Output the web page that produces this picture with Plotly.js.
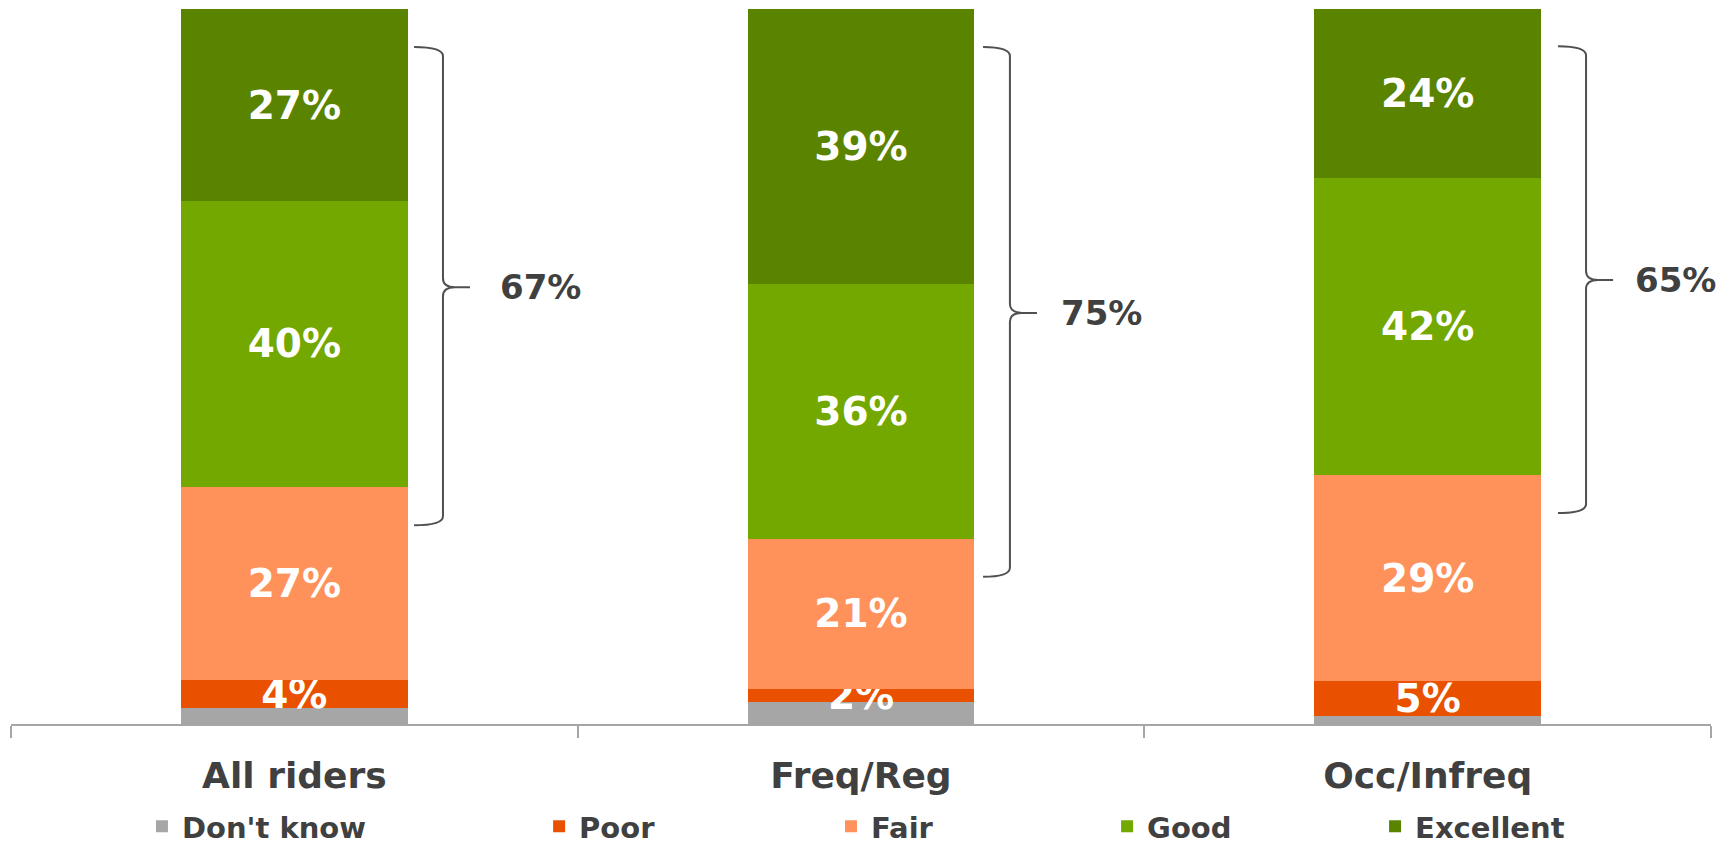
<!DOCTYPE html>
<html>
<head>
<meta charset="utf-8">
<script src="https://cdn.plot.ly/plotly-3.0.1.min.js"></script>
<style>
  html, body { margin: 0; padding: 0; background: #ffffff; }
  #chart { width: 1729px; height: 845px; }
</style>
</head>
<body>
<div id="chart"></div>
<script>
// ---- Data ----
const categories = ['All riders', 'Freq/Reg', 'Occ/Infreq'];
const seriesNames = ["Don't know", 'Poor', 'Fair', 'Good', 'Excellent'];
const dontKnow  = [2.2, 3.1, 1.1];
const poor      = [3.9, 1.8, 4.9];
const fair      = [27.1, 21.0, 28.8];
const good      = [39.9, 35.6, 41.6];
const excellent = [26.9, 38.5, 23.6];
// Printed totals next to the braces (Good + Excellent)
const topTwoTotals = [67, 75, 65];

// ---- Styles / layout settings ----
const colors = ['#A6A6A6', '#E95000', '#FF915A', '#73A800', '#5A8400'];
const FONT = 'DejaVu Sans, Verdana, sans-serif';
const textColor = '#404040';

// Brace geometry (x in paper units, y in data units)
const braceStubX = [0.2371, 0.5718, 0.9100];
const braceLineX = [0.2541, 0.5876, 0.9265];
const braceTipX  = [0.2700, 0.6035, 0.9424];
const braceLabelX = [0.2865, 0.6165, 0.9541];
const braceTop    = [94.7, 94.7, 94.8];
const braceMid    = [61.1, 57.5, 62.1];
const braceBottom = [27.8, 20.6, 29.5];
// Legend positions (container fractions)
const legendX = [0.0821, 0.3118, 0.4806, 0.6403, 0.7953];
const legendY = 0.022;

const seriesValues = [dontKnow, poor, fair, good, excellent];
const legendIds = ['legend', 'legend2', 'legend3', 'legend4', 'legend5'];

const traces = seriesValues.map((vals, i) => ({
  type: 'bar',
  name: seriesNames[i],
  x: categories,
  y: vals,
  marker: { color: colors[i], line: { width: 0 } },
  texttemplate: i === 0 ? '' : '%{y:.0f}%',
  textposition: i === 0 ? 'none' : 'inside',
  insidetextanchor: 'middle',
  textangle: 0,
  constraintext: 'none',
  textfont: { family: FONT, size: 39, color: '#ffffff', weight: 'bold' },
  cliponaxis: false,
  hoverinfo: 'skip',
  legend: legendIds[i]
}));

const shapes = [];
const annotations = [];
const rPx = 9;               // curve radius in px
const pxPerUnit = 715 / 100; // plot height / y-range
const r = rPx / pxPerUnit;
const dxTip = 12 / 1700;
for (let k = 0; k < categories.length; k++) {
  const x0 = braceStubX[k], x1 = braceLineX[k], x2 = braceTipX[k];
  const yt = braceTop[k], ym = braceMid[k], yb = braceBottom[k];
  const path =
    `M ${x0},${yt} Q ${x1},${yt} ${x1},${yt - r} ` +
    `L ${x1},${ym + r} Q ${x1},${ym} ${x1 + dxTip},${ym} L ${x2},${ym} ` +
    `M ${x1 + dxTip},${ym} Q ${x1},${ym} ${x1},${ym - r} ` +
    `L ${x1},${yb + r} Q ${x1},${yb} ${x0},${yb}`;
  shapes.push({
    type: 'path', xref: 'paper', yref: 'y', path: path,
    line: { color: '#505050', width: 2 }, fillcolor: 'rgba(0,0,0,0)'
  });
  annotations.push({
    xref: 'paper', yref: 'y', x: braceLabelX[k], y: ym,
    xanchor: 'left', yanchor: 'middle', showarrow: false,
    text: topTwoTotals[k] + '%',
    font: { family: FONT, size: 34, color: textColor, weight: 'bold' }
  });
}

const layout = {
  width: 1729, height: 845,
  margin: { l: 11, r: 18, t: 9, b: 121, autoexpand: false },
  paper_bgcolor: '#ffffff', plot_bgcolor: '#ffffff',
  barmode: 'stack', bargap: 0.6,
  showlegend: true,
  hovermode: false,
  uniformtext: { mode: 'show', minsize: 39 },
  xaxis: {
    type: 'category', range: [-0.5, 2.5], automargin: false,
    showline: true, linecolor: '#A6A6A6', linewidth: 2,
    ticks: 'outside', tickson: 'boundaries', ticklen: 12, tickwidth: 2, tickcolor: '#A6A6A6',
    showgrid: false, zeroline: false,
    tickfont: { family: FONT, size: 36, color: textColor, weight: 'bold' },
    ticklabelstandoff: 19,
    fixedrange: true
  },
  yaxis: { range: [0, 100], visible: false, showgrid: false, zeroline: false, fixedrange: true, automargin: false },
  shapes: shapes,
  annotations: annotations
};
legendIds.forEach((id, i) => {
  layout[id] = {
    x: legendX[i], y: legendY, xref: 'container', yref: 'container',
    xanchor: 'left', yanchor: 'middle',
    orientation: 'h', bgcolor: 'rgba(0,0,0,0)', borderwidth: 0,
    font: { family: FONT, size: 29, color: textColor, weight: 'bold' }
  };
});

Plotly.newPlot('chart', traces, layout, { staticPlot: true, displayModeBar: false });
</script>
</body>
</html>
